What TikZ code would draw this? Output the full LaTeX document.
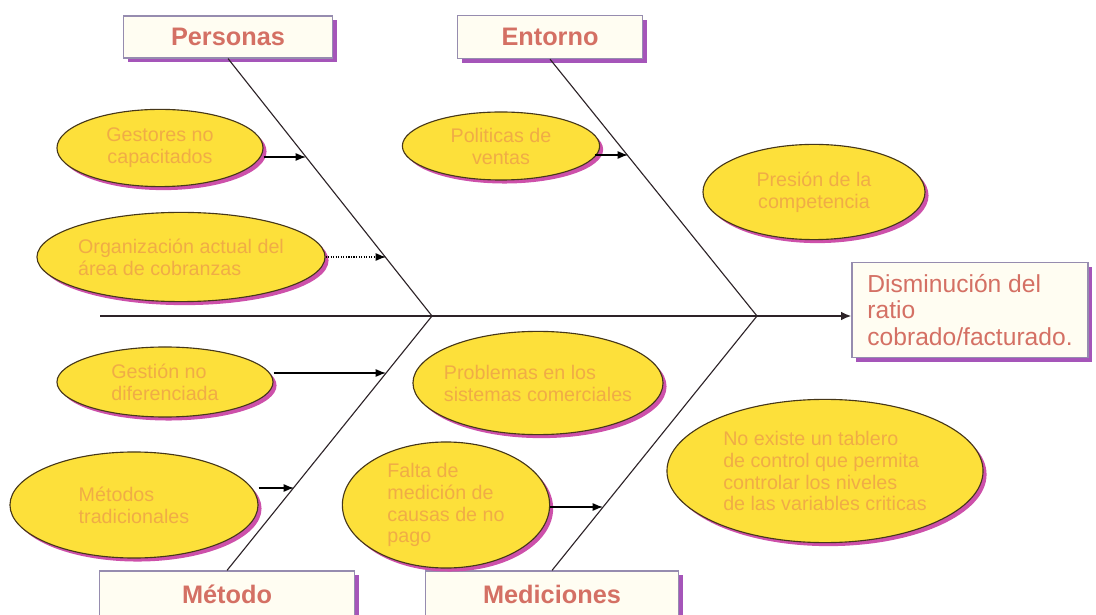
\documentclass[tikz,border=0pt]{standalone}
\usepackage{fontspec}
\setmainfont{Liberation Sans}
\usepackage{tikz}
\usetikzlibrary{arrows.meta,positioning,shapes.geometric,shadows}
\usepackage{xcolor}
\definecolor{causeyellow}{RGB}{253,224,58}
\definecolor{causeedge}{RGB}{70,55,25}
\definecolor{causetext}{RGB}{240,172,70}
\definecolor{causeshadow}{RGB}{205,80,170}
\definecolor{boxfill}{RGB}{255,253,242}
\definecolor{boxedge}{RGB}{150,140,175}
\definecolor{boxshadow}{RGB}{165,85,185}
\definecolor{titlered}{RGB}{212,112,100}
\definecolor{bonedark}{RGB}{45,35,40}
\tikzset{
  cause/.style={ellipse, draw=causeedge, line width=0.8pt, fill=causeyellow,
                inner xsep=-6pt, inner ysep=-2pt, text=causetext, align=center,
                font=\fontsize{14}{15.6}\selectfont,
                drop shadow={shadow xshift=2.5pt, shadow yshift=-2.5pt, fill=causeshadow, opacity=1}},
  category/.style={rectangle, draw=boxedge, line width=0.8pt, fill=boxfill,
                   text=titlered, font=\fontsize{18}{20}\selectfont\bfseries,
                   drop shadow={shadow xshift=3pt, shadow yshift=-3pt, fill=boxshadow, opacity=1}},
  effect/.style={category, align=left, font=\fontsize{17.5}{19}\selectfont},
  bone/.style={line width=0.8pt, bonedark},
  spine/.style={line width=1.3pt, bonedark, -{Latex[length=2.6mm, width=2.2mm]}},
  arrow/.style={line width=0.8pt, black, -{Latex[length=2.6mm, width=2mm]}},
}

\begin{document}
\begin{tikzpicture}[x=0.025cm, y=-0.025cm]
\useasboundingbox (0,0) rectangle (1096,615);

% categorias
\node[category, minimum width=5.22cm, minimum height=1.05cm] (personas) at (228,37) {Personas};
\node[category, minimum width=4.63cm, minimum height=1.08cm] (entorno) at (550,37) {Entorno};
\node[category, minimum width=6.38cm, minimum height=1.15cm] (metodo) at (227,594) {Método};
\node[category, minimum width=6.33cm, minimum height=1.15cm] (mediciones) at (552,594) {Mediciones};
\node[effect, minimum width=5.9cm, minimum height=2.38cm] (efecto) at (970,310) {Disminución del\\ratio\\cobrado/facturado.};

% espina
\coordinate (cola) at (100,316);
\coordinate (j1) at (432,316);
\coordinate (j2) at (757,316);
\draw[spine] (cola) -- (cola -| efecto.west);
\draw[bone] (personas.south) -- (j1);
\draw[bone] (metodo.north) -- (j1);
\draw[bone] (entorno.south) -- (j2);
\draw[bone] (mediciones.north) -- (j2);

% causas
\node[cause, minimum width=5.15cm, minimum height=1.93cm] (gestores) at (160,148) {Gestores no\\capacitados};
\node[cause, minimum width=7.2cm, minimum height=2.23cm, align=left] (organizacion) at (181,257) {Organización actual del\\área de cobranzas};
\node[cause, minimum width=4.93cm, minimum height=1.7cm] (politicas) at (501,146) {Politicas de\\ventas};
\node[cause, minimum width=5.55cm, minimum height=2.38cm] (presion) at (814,192) {Presión de la\\competencia};
\node[cause, minimum width=5.4cm, minimum height=1.75cm, align=left] (gestion) at (165,382) {Gestión no\\diferenciada};
\node[cause, minimum width=6.2cm, minimum height=2.65cm, align=left] (metodos) at (134,505) {Métodos\\tradicionales};
\node[cause, minimum width=6.25cm, minimum height=2.58cm, align=left] (problemas) at (538,383) {Problemas en los\\sistemas comerciales};
\node[cause, minimum width=5.18cm, minimum height=3.15cm, align=left] (falta) at (446,505) {Falta de\\medición de\\causas de no\\pago};
\node[cause, minimum width=7.9cm, minimum height=3.58cm, align=left] (noexiste) at (825,471) {No existe un tablero\\de control que permita\\controlar los niveles\\de las variables criticas};

% puntos sobre las espinas
\coordinate (pGestores) at (306,157);
\coordinate (pOrganizacion) at (386,257);
\coordinate (pPoliticas) at (628,155);
\coordinate (pGestion) at (386,373);
\coordinate (pMetodos) at (294,488);
\coordinate (pFalta) at (603,507);

\draw[arrow] (gestores.east |- pGestores) -- (pGestores);
\draw[arrow, densely dotted] (organizacion.east |- pOrganizacion) -- (pOrganizacion);
\draw[arrow] ([xshift=-4pt]politicas.east |- pPoliticas) -- (pPoliticas);
\draw[arrow] (gestion.east |- pGestion) -- (pGestion);
\draw[arrow] (metodos.east |- pMetodos) -- (pMetodos);
\draw[arrow] (falta.east |- pFalta) -- (pFalta);
\end{tikzpicture}
\end{document}
